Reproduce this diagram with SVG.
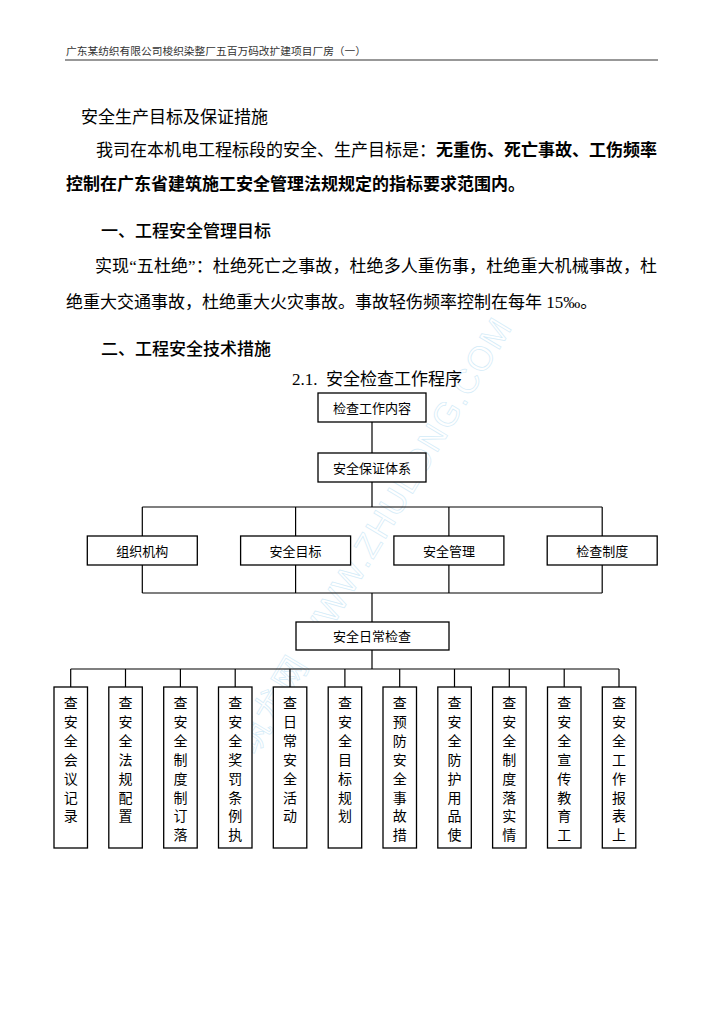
<svg xmlns="http://www.w3.org/2000/svg" width="724" height="1024" viewBox="0 0 724 1024">
<defs>
<style>
.hdr{font-family:"Liberation Serif","Noto Sans CJK SC",serif;font-size:10.5px;fill:#333}
.body{font-family:"Liberation Serif","Noto Sans CJK SC",serif;font-size:17px;fill:#000}
.b{font-weight:bold}
.m{font-weight:500}
.box{fill:#fff;stroke:#000;stroke-width:1.3}
.lbl{font-family:"Liberation Serif","Noto Sans CJK SC",serif;font-size:13px;fill:#000;text-anchor:middle}
.leaf{font-family:"Liberation Serif","Noto Sans CJK SC",serif;font-size:14px;fill:#000;text-anchor:middle}
.conn{stroke:#000;stroke-width:1.2;fill:none}
.wm{font-family:"Liberation Sans","Noto Sans CJK SC",sans-serif;font-size:34px;fill:none;stroke:#c4e5f6;stroke-width:0.7}
</style>
</defs>
<rect width="724" height="1024" fill="#fff"/>
<g id="watermark" opacity="0.75">
<text class="wm" transform="translate(255,756) rotate(-59)" textLength="500" lengthAdjust="spacing">筑龙网 WWW.ZHULONG.COM</text>
</g>
<g id="header">
<text class="hdr" x="66" y="55" textLength="300" lengthAdjust="spacingAndGlyphs">广东某纺织有限公司梭织染整厂五百万码改扩建项目厂房（一）</text>
<line x1="65" y1="60" x2="658" y2="60" stroke="#333" stroke-width="1.2"/>
</g>
<g id="text">
<text class="body" x="81" y="122.5">安全生产目标及保证措施</text>
<text class="body" x="96" y="155.5" textLength="561" lengthAdjust="spacing">我司在本机电工程标段的安全、生产目标是：<tspan class="b">无重伤、死亡事故、工伤频率</tspan></text>
<text class="body b" x="66" y="189.5">控制在广东省建筑施工安全管理法规规定的指标要求范围内。</text>
<text class="body m" x="101" y="236.5">一、工程安全管理目标</text>
<text class="body" x="95" y="271.5" textLength="562" lengthAdjust="spacing">实现“五杜绝”：杜绝死亡之事故，杜绝多人重伤事，杜绝重大机械事故，杜</text>
<text class="body" x="66" y="307.5">绝重大交通事故，杜绝重大火灾事故。事故轻伤频率控制在每年 15‰。</text>
<text class="body m" x="101" y="354.5">二、工程安全技术措施</text>
<text class="body" x="292" y="385">2.1.<tspan x="326">安全检查工作程序</tspan></text>
</g>
<g id="connectors">
<path class="conn" d="M372,422 V453 M372,482 V507 M142.3,507 H602.2 M142.3,507 V536 M295.6,507 V536 M448.9,507 V536 M602.2,507 V536 M142.3,565 V593 M295.6,565 V593 M448.9,565 V593 M602.2,565 V593 M142.3,593 H602.2 M372,593 V622 M372,650 V669 M70.7,669 H619 M70.7,669 V687 M125.5,669 V687 M180.4,669 V687 M235.2,669 V687 M290,669 V687 M344.9,669 V687 M399.7,669 V687 M454.5,669 V687 M509.3,669 V687 M564.2,669 V687 M619,669 V687"/>
</g>
<g id="n-jcgznr"><rect class="box" x="318" y="393" width="108" height="29"/><text class="lbl" x="372" y="412.5">检查工作内容</text></g>
<g id="n-aqbztx"><rect class="box" x="318" y="453" width="108" height="29"/><text class="lbl" x="372" y="472.5">安全保证体系</text></g>
<g id="n-zzjg"><rect class="box" x="87.3" y="536" width="110" height="29"/><text class="lbl" x="142.3" y="555.5">组织机构</text></g>
<g id="n-aqmb"><rect class="box" x="240.6" y="536" width="110" height="29"/><text class="lbl" x="295.6" y="555.5">安全目标</text></g>
<g id="n-aqgl"><rect class="box" x="393.9" y="536" width="110" height="29"/><text class="lbl" x="448.9" y="555.5">安全管理</text></g>
<g id="n-jczd"><rect class="box" x="547.2" y="536" width="110" height="29"/><text class="lbl" x="602.2" y="555.5">检查制度</text></g>
<g id="n-aqrcjc"><rect class="box" x="296" y="622" width="153" height="28"/><text class="lbl" x="372" y="641">安全日常检查</text></g>
<g id="leaf1"><rect class="box" x="54" y="687" width="33.5" height="161"/><text class="leaf" y="708"><tspan x="70.7">查</tspan><tspan x="70.7" dy="18.9">安</tspan><tspan x="70.7" dy="18.9">全</tspan><tspan x="70.7" dy="18.9">会</tspan><tspan x="70.7" dy="18.9">议</tspan><tspan x="70.7" dy="18.9">记</tspan><tspan x="70.7" dy="18.9">录</tspan></text></g>
<g id="leaf2"><rect class="box" x="108.8" y="687" width="33.5" height="161"/><text class="leaf" y="708"><tspan x="125.5">查</tspan><tspan x="125.5" dy="18.9">安</tspan><tspan x="125.5" dy="18.9">全</tspan><tspan x="125.5" dy="18.9">法</tspan><tspan x="125.5" dy="18.9">规</tspan><tspan x="125.5" dy="18.9">配</tspan><tspan x="125.5" dy="18.9">置</tspan></text></g>
<g id="leaf3"><rect class="box" x="163.7" y="687" width="33.5" height="161"/><text class="leaf" y="708"><tspan x="180.4">查</tspan><tspan x="180.4" dy="18.9">安</tspan><tspan x="180.4" dy="18.9">全</tspan><tspan x="180.4" dy="18.9">制</tspan><tspan x="180.4" dy="18.9">度</tspan><tspan x="180.4" dy="18.9">制</tspan><tspan x="180.4" dy="18.9">订</tspan><tspan x="180.4" dy="18.9">落</tspan></text></g>
<g id="leaf4"><rect class="box" x="218.5" y="687" width="33.5" height="161"/><text class="leaf" y="708"><tspan x="235.2">查</tspan><tspan x="235.2" dy="18.9">安</tspan><tspan x="235.2" dy="18.9">全</tspan><tspan x="235.2" dy="18.9">奖</tspan><tspan x="235.2" dy="18.9">罚</tspan><tspan x="235.2" dy="18.9">条</tspan><tspan x="235.2" dy="18.9">例</tspan><tspan x="235.2" dy="18.9">执</tspan></text></g>
<g id="leaf5"><rect class="box" x="273.3" y="687" width="33.5" height="161"/><text class="leaf" y="708"><tspan x="290">查</tspan><tspan x="290" dy="18.9">日</tspan><tspan x="290" dy="18.9">常</tspan><tspan x="290" dy="18.9">安</tspan><tspan x="290" dy="18.9">全</tspan><tspan x="290" dy="18.9">活</tspan><tspan x="290" dy="18.9">动</tspan></text></g>
<g id="leaf6"><rect class="box" x="328.2" y="687" width="33.5" height="161"/><text class="leaf" y="708"><tspan x="344.9">查</tspan><tspan x="344.9" dy="18.9">安</tspan><tspan x="344.9" dy="18.9">全</tspan><tspan x="344.9" dy="18.9">目</tspan><tspan x="344.9" dy="18.9">标</tspan><tspan x="344.9" dy="18.9">规</tspan><tspan x="344.9" dy="18.9">划</tspan></text></g>
<g id="leaf7"><rect class="box" x="383" y="687" width="33.5" height="161"/><text class="leaf" y="708"><tspan x="399.7">查</tspan><tspan x="399.7" dy="18.9">预</tspan><tspan x="399.7" dy="18.9">防</tspan><tspan x="399.7" dy="18.9">安</tspan><tspan x="399.7" dy="18.9">全</tspan><tspan x="399.7" dy="18.9">事</tspan><tspan x="399.7" dy="18.9">故</tspan><tspan x="399.7" dy="18.9">措</tspan></text></g>
<g id="leaf8"><rect class="box" x="437.8" y="687" width="33.5" height="161"/><text class="leaf" y="708"><tspan x="454.5">查</tspan><tspan x="454.5" dy="18.9">安</tspan><tspan x="454.5" dy="18.9">全</tspan><tspan x="454.5" dy="18.9">防</tspan><tspan x="454.5" dy="18.9">护</tspan><tspan x="454.5" dy="18.9">用</tspan><tspan x="454.5" dy="18.9">品</tspan><tspan x="454.5" dy="18.9">使</tspan></text></g>
<g id="leaf9"><rect class="box" x="492.6" y="687" width="33.5" height="161"/><text class="leaf" y="708"><tspan x="509.3">查</tspan><tspan x="509.3" dy="18.9">安</tspan><tspan x="509.3" dy="18.9">全</tspan><tspan x="509.3" dy="18.9">制</tspan><tspan x="509.3" dy="18.9">度</tspan><tspan x="509.3" dy="18.9">落</tspan><tspan x="509.3" dy="18.9">实</tspan><tspan x="509.3" dy="18.9">情</tspan></text></g>
<g id="leaf10"><rect class="box" x="547.5" y="687" width="33.5" height="161"/><text class="leaf" y="708"><tspan x="564.2">查</tspan><tspan x="564.2" dy="18.9">安</tspan><tspan x="564.2" dy="18.9">全</tspan><tspan x="564.2" dy="18.9">宣</tspan><tspan x="564.2" dy="18.9">传</tspan><tspan x="564.2" dy="18.9">教</tspan><tspan x="564.2" dy="18.9">育</tspan><tspan x="564.2" dy="18.9">工</tspan></text></g>
<g id="leaf11"><rect class="box" x="602.3" y="687" width="33.5" height="161"/><text class="leaf" y="708"><tspan x="619">查</tspan><tspan x="619" dy="18.9">安</tspan><tspan x="619" dy="18.9">全</tspan><tspan x="619" dy="18.9">工</tspan><tspan x="619" dy="18.9">作</tspan><tspan x="619" dy="18.9">报</tspan><tspan x="619" dy="18.9">表</tspan><tspan x="619" dy="18.9">上</tspan></text></g>
</svg>
